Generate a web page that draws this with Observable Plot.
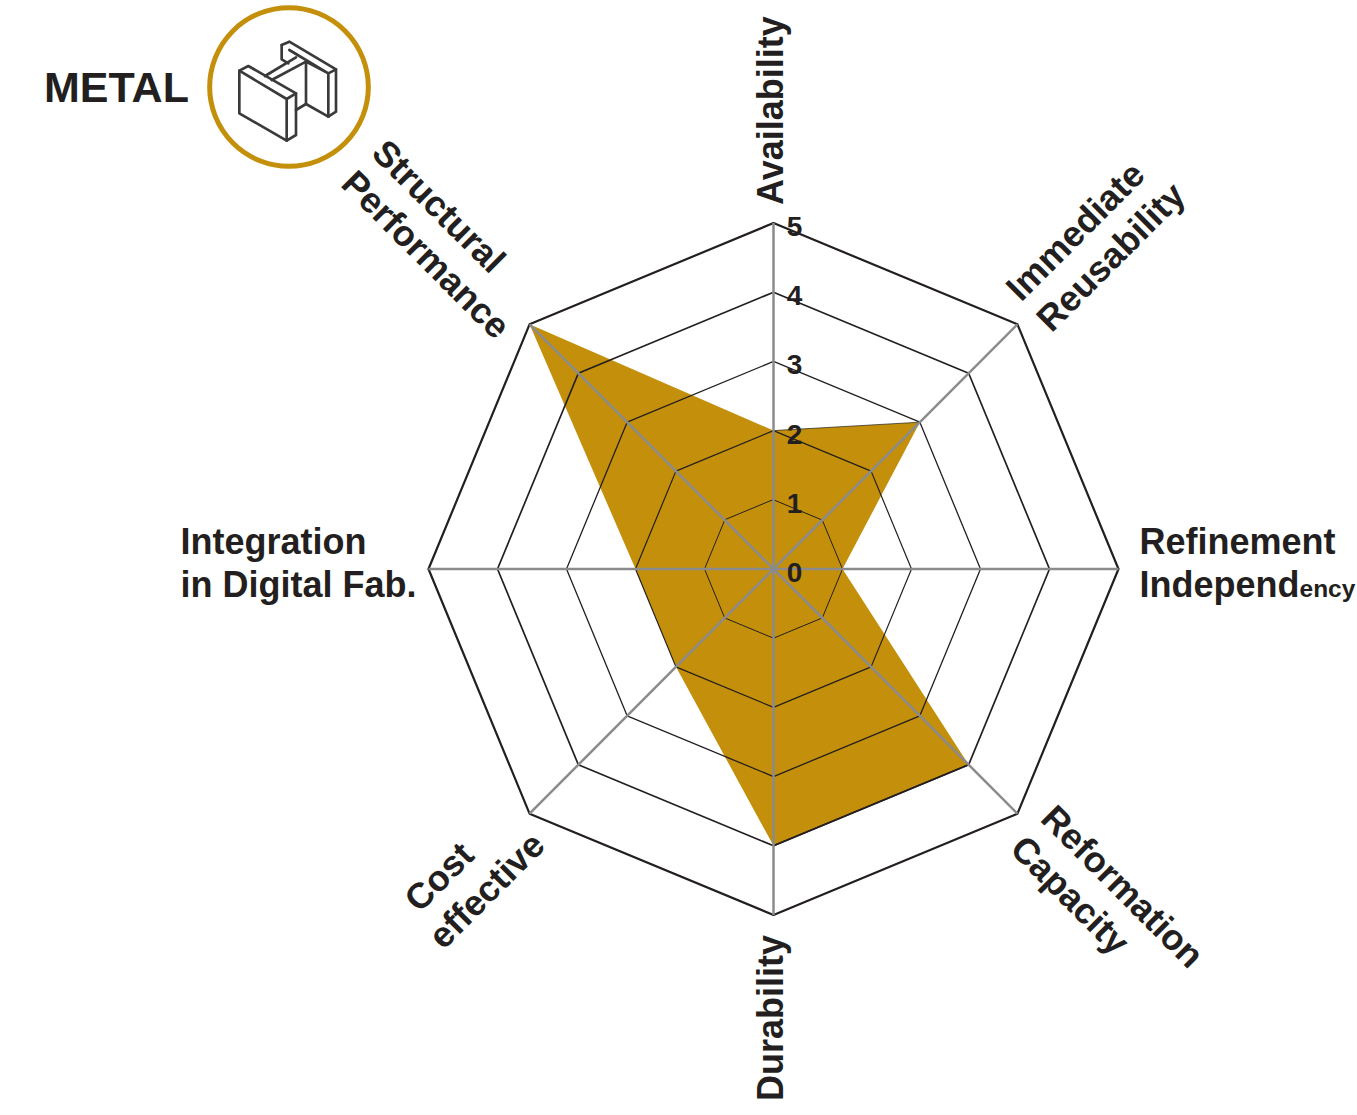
<!DOCTYPE html>
<html><head><meta charset="utf-8">
<script src="https://cdn.jsdelivr.net/npm/d3@7"></script>
<script src="https://cdn.jsdelivr.net/npm/@observablehq/plot@0.6"></script>
<style>
html,body{margin:0;padding:0;background:#fff;overflow:hidden}
#wrap{position:relative;width:1357px;height:1115px}
#wrap svg{position:absolute;left:0;top:0}
#title{position:absolute;left:44px;top:61px;font:bold 43px/52px "Liberation Sans",Arial,sans-serif;color:#231f20}
</style></head><body>
<div id="wrap"><div id="title">METAL</div></div>
<script>
const axes = ["Availability","Immediate\nReusability","Refinement\nIndependency","Reformation\nCapacity","Durability","Cost\neffective","Integration\nin Digital Fab.","Structural\nPerformance"];
const values = [2,3,1,4,4,2,2,5];
const levels = [1,2,3,4,5];
const tickValues = [0,1,2,3,4,5];
const labelDx = [-4,9,21,16,-4,-111,-248,-165];
const labelDy = [-18,-16,-7,12,20,112,-7,-164];
const labelRotate = [-90,-45,0,45,-90,-45,0,45];
const labelAnchor = ["start","start","start","start","end","start","start","start"];

const INK = "#231f20", GOLD = "#c4900b", SPOKE = "#8b8b8d";
const polar = (r,i)=>{const a=i*Math.PI/4;return {x:r*Math.sin(a),y:r*Math.cos(a),r,i};};
const ringWidth = {1:1,2:1.2,3:1.3,4:1.7,5:2.2};
const font = '"Liberation Sans",Arial,sans-serif';

const shape = values.map((v,i)=>polar(v,i));
const rings = levels.map(l=>Plot.line(axes.map((_,i)=>polar(l,i)),{x:"x",y:"y",curve:"linear-closed",stroke:INK,strokeWidth:ringWidth[l]}));
const spokes = axes.map((_,i)=>({a:polar(0,i),b:polar(5,i)}));
const labels = axes.map((t,i)=>({t,...polar(5,i),dx:labelDx[i],dy:labelDy[i],rot:labelRotate[i],anc:labelAnchor[i]}));
const labelMarks = labels.map(d=>Plot.text([d],{x:"x",y:"y",text:"t",dx:d.dx,dy:d.dy,rotate:d.rot,textAnchor:d.anc,lineAnchor:"middle",lineHeight:1.2,fontSize:36,fontWeight:"bold",fill:INK,fontFamily:font}));

const plot = Plot.plot({
  width:1357,height:1115,margin:0,
  style:{background:"transparent",fontFamily:font},
  x:{domain:[-5,5],range:[428,1118],axis:null},
  y:{domain:[-5,5],range:[914.5,222.5],axis:null},
  marks:[
    Plot.line(shape,{x:"x",y:"y",curve:"linear-closed",fill:GOLD,stroke:"none"}),
    ...rings,
    Plot.line(shape.slice(0,2),{x:"x",y:"y",stroke:INK,strokeWidth:0.7}),
    Plot.line(shape.slice(3,5),{x:"x",y:"y",stroke:INK,strokeWidth:1.5}),
    Plot.link(spokes,{x1:d=>d.a.x,y1:d=>d.a.y,x2:d=>d.b.x,y2:d=>d.b.y,stroke:SPOKE,strokeWidth:2.5}),
    Plot.text(tickValues,{x:0,y:d=>d,text:d=>String(d),dx:21,dy:4,fontSize:28,fontWeight:"bold",fill:INK,fontFamily:font}),
    ...labelMarks
  ]
});
document.getElementById("wrap").appendChild(plot);

// the tail of "Independency" is set smaller in the reference; "Cost" is nudged along its line
d3.select(plot).selectAll("tspan").each(function(){
  const s=d3.select(this);
  if(this.textContent==="Independency"){ s.text("Independ"); s.append("tspan").attr("font-size",24.5).text("ency"); }
  if(this.textContent==="Cost"){ s.attr("dx",9); }
});

// logo badge
const wrap=document.getElementById("wrap");
wrap.insertAdjacentHTML("beforeend",`<svg width="400" height="180" viewBox="0 0 1200 540" style="pointer-events:none">
<circle cx="867" cy="261" r="238" fill="none" stroke="${GOLD}" stroke-width="15"/>
<g fill="none" stroke="#3a3a3a" stroke-width="8" stroke-linejoin="round" stroke-linecap="round">
<path d="M718 212L745 198L888 280L888 405L860 422L718 340Z"/>
<path d="M718 212L860 297L888 280M860 297L860 422"/>
<path d="M795 228L888 172M815 240L918 185"/>
<path d="M845 135L868 125L1008 208L1008 335L985 350L918 312L888 330"/>
<path d="M845 135L845 178L865 190M868 150L985 220L1008 208M985 220L985 350M918 185L918 312M918 185L985 220"/>
</g></svg>`);
</script></body></html>
